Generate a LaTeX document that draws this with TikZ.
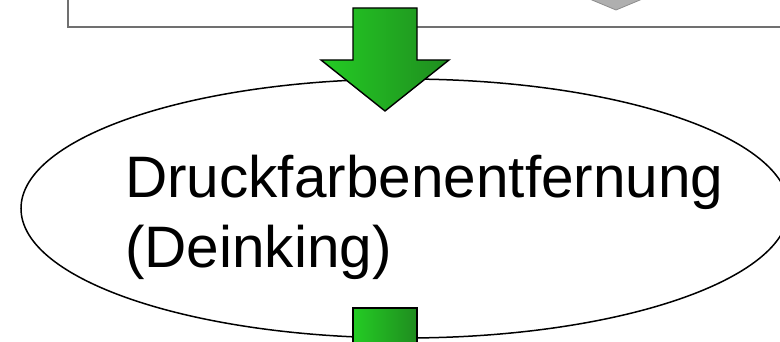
\documentclass[tikz,border=0pt]{standalone}
\usepackage{fontspec}
\setmainfont{Liberation Sans}
\usetikzlibrary{shapes.geometric}
\definecolor{arrowlight}{HTML}{24CC24}
\definecolor{arrowdark}{HTML}{1F8C1F}
\definecolor{boxgray}{HTML}{707070}
\definecolor{markgray}{HTML}{AFAFAF}
\definecolor{markedge}{HTML}{8C8C8C}
\begin{document}
\begin{tikzpicture}[x=1pt,y=-1pt,
  flowarrow/.style={left color=arrowlight, right color=arrowdark, draw=black, line width=1.4pt, line join=miter},
  stage/.style={draw=black, line width=1.5pt, ellipse, inner sep=0pt, outer sep=0pt},
  stagetext/.style={anchor=base west, inner sep=0pt, font=\fontsize{58.5}{68}\selectfont}]
\useasboundingbox (0,0) rectangle (780,342);
\clip (0,0) rectangle (780,342);

% lower edge of the preceding process box
\draw[line width=2.2pt, draw=boxgray] (68,-20) -- (68,27) -- (800,27);
% grey marker inside that box
\filldraw[fill=markgray, draw=markedge, line width=0.8pt] (580,-5) -- (616,10) -- (652,-5) -- cycle;

% deinking stage
\node[stage, minimum width=768pt, minimum height=259pt] (deink) at (405,208.5) {};
\node[stagetext] (title) at (125,198) {Druckfarbenentfernung};
\node[stagetext] (subtitle) at (125,268) {(Deinking)};

% flow arrow into the stage
\shadedraw[flowarrow] (353,8) -- (417,8) -- (417,60) -- (449,60) -- (385,111)
  -- (321,60) -- (353,60) -- cycle;
% flow arrow out of the stage
\shadedraw[flowarrow] (353,308) -- (417,308) -- (417,360) -- (353,360) -- cycle;
\end{tikzpicture}
\end{document}
